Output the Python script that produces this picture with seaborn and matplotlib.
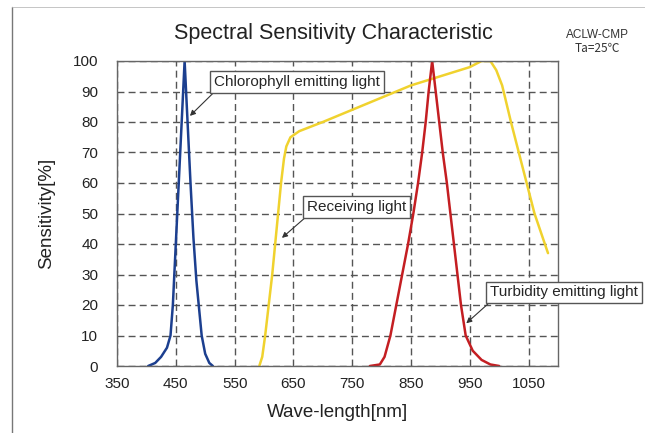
import matplotlib
matplotlib.use("Agg")
import matplotlib.pyplot as plt
import seaborn as sns
import numpy as np
from matplotlib.lines import Line2D

# ---- data ----
chl_wl = [403, 415, 425, 435, 441, 445, 450, 455, 460, 465, 470, 475, 480, 485, 489, 494, 500, 507, 513]
chl_s = [0, 1, 3, 6, 10, 20, 40, 60, 80, 100, 80, 60, 42, 28, 20, 10, 4, 1, 0]

rcv_wl = [592, 597, 602, 608, 614, 619, 624, 629, 634, 638, 645, 660, 700, 750, 800, 850, 900, 950,
          970, 985, 995, 1005, 1020, 1040, 1060, 1083]
rcv_s = [0, 3, 10, 20, 30, 40, 50, 60, 68, 72, 75, 77, 80, 84, 88, 92, 95, 98,
         100, 100, 97, 92, 80, 65, 50, 37]

tur_wl = [780, 797, 805, 815, 825, 835, 845, 854, 862, 869, 875, 880, 886, 892, 898, 904, 911, 917,
          923, 929, 935, 943, 955, 970, 985, 1000]
tur_s = [0, 0.5, 3, 10, 20, 30, 40, 50, 60, 70, 80, 90, 100, 90, 80, 70, 60, 50,
         40, 30, 20, 10, 5, 2, 0.5, 0]

x_ticks = [350, 450, 550, 650, 750, 850, 950, 1050]
y_ticks = [0, 10, 20, 30, 40, 50, 60, 70, 80, 90, 100]

title = "Spectral Sensitivity Characteristic"
x_label = "Wave-length[nm]"
y_label = "Sensitivity[%]"

sns.set_theme(style="white")
plt.rcParams["font.family"] = ["Liberation Sans", "DejaVu Sans"]

fig = plt.figure(figsize=(6.45, 4.33), dpi=100)
ax = fig.add_axes([117 / 645, 1 - 366 / 433, (558 - 117) / 645, (366 - 61) / 433])

sns.lineplot(x=chl_wl, y=chl_s, ax=ax, color="#1c3f8f", lw=1.8)
sns.lineplot(x=rcv_wl, y=rcv_s, ax=ax, color="#f0d22e", lw=1.8)
sns.lineplot(x=tur_wl, y=tur_s, ax=ax, color="#c41e22", lw=1.8)

ax.set_xlim(350, 1100)
ax.set_ylim(0, 100)
ax.set_xticks(x_ticks)
ax.set_yticks(y_ticks)
ax.grid(True, color="#555555", linestyle=(0, (5, 3)), lw=1.0)
ax.tick_params(axis="both", length=0, labelsize=11, colors="#222222")
ax.tick_params(axis="y", pad=13.5)
ax.tick_params(axis="x", pad=8)
for sp in ax.spines.values():
    sp.set_color("#666666")
    sp.set_linewidth(1.0)

ax.set_xlabel(x_label, fontsize=13.5, color="#222222", labelpad=9)
ax.set_ylabel(y_label, fontsize=13.5, color="#222222", labelpad=13)

fig.text(333 / 645, 1 - 34 / 433, title, ha="center", va="center", fontsize=15.5, color="#222222")
fig.text(597 / 645, 1 - 35 / 433, "ACLW-CMP", ha="center", va="center", fontsize=8.5, color="#333333")
fig.text(597 / 645, 1 - 48 / 433, "Ta=25\u2103", ha="center", va="center", fontsize=8.5, color="#333333",
         family=["Noto Sans CJK JP", "DejaVu Sans"])

box = dict(boxstyle="square,pad=0.25", fc="white", ec="#555555", lw=1.0)
arrow = dict(arrowstyle="-|>", color="#333333", lw=0.8, mutation_scale=8,
             shrinkA=0, shrinkB=0, relpos=(0.02, 0.0))
ax.annotate("Chlorophyll emitting light", xy=(474, 82), xytext=(656, 93.1),
            ha="center", va="center", fontsize=11, bbox=box, arrowprops=arrow)
ax.annotate("Receiving light", xy=(630.5, 42), xytext=(758, 52.1),
            ha="center", va="center", fontsize=11, bbox=box, arrowprops=arrow)
ax.annotate("Turbidity emitting light", xy=(944, 14), xytext=(1110, 24.1),
            ha="center", va="center", fontsize=11, bbox=box, arrowprops=arrow,
            annotation_clip=False)

# outer frame lines (left and top)
fig.add_artist(Line2D([12 / 645, 12 / 645], [0, 1 - 7 / 433], transform=fig.transFigure, color="#777777", lw=1))
fig.add_artist(Line2D([12 / 645, 1], [1 - 7 / 433, 1 - 7 / 433], transform=fig.transFigure, color="#bbbbbb", lw=0.6))

fig.savefig("out.png", dpi=100, facecolor="white")
